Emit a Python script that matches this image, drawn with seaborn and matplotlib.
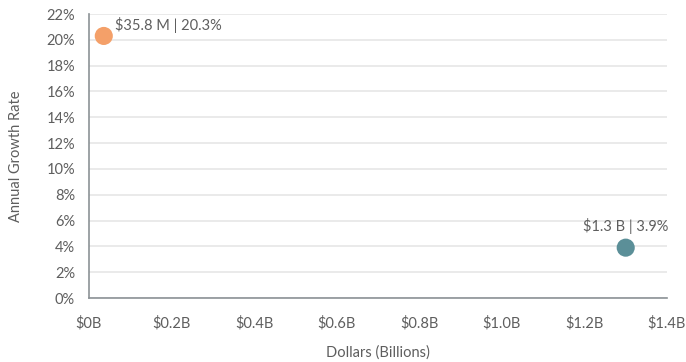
import matplotlib
matplotlib.use("Agg")
import matplotlib.pyplot as plt
import seaborn as sns
import pandas as pd
from matplotlib.ticker import FuncFormatter, MultipleLocator

# Market size (billions of dollars) vs annual growth rate (%)
segments = ["Small", "Large"]
dollars_billions = [0.0358, 1.3]
growth_rate = [20.3, 3.9]
point_labels = ["$35.8 M | 20.3%", "$1.3 B | 3.9%"]
point_colors = ["#F4A069", "#5B8F98"]

df = pd.DataFrame({"segment": segments, "dollars": dollars_billions, "growth": growth_rate})

sns.set_theme(style="white")
plt.rcParams["font.family"] = ["Lato", "DejaVu Sans"]
text_color = "#5E5E5E"

fig = plt.figure(figsize=(6.86, 3.62), dpi=100)
ax = fig.add_axes([89 / 686, 1 - 298 / 362, (667 - 89) / 686, (298 - 14) / 362])

sns.scatterplot(data=df, x="dollars", y="growth", hue="segment",
                palette=point_colors, s=170, edgecolor="none", legend=False,
                ax=ax, zorder=3, clip_on=False)

ax.set_xlim(0, 1.4)
ax.set_ylim(0, 22)
ax.xaxis.set_major_locator(MultipleLocator(0.2))
ax.yaxis.set_major_locator(MultipleLocator(2))
ax.xaxis.set_major_formatter(FuncFormatter(lambda v, p: "$0B" if abs(v) < 1e-9 else f"${v:.1f}B"))
ax.yaxis.set_major_formatter(FuncFormatter(lambda v, p: f"{v:.0f}%"))

ax.grid(axis="y", color="#E6E6E6", linewidth=1.2)
ax.set_axisbelow(True)
for side in ["top", "right"]:
    ax.spines[side].set_visible(False)
for side in ["left", "bottom"]:
    ax.spines[side].set_color("#8C9296")
    ax.spines[side].set_linewidth(1.2)

ax.tick_params(axis="both", length=0, labelsize=10.5, colors=text_color)
ax.tick_params(axis="x", pad=13)
ax.tick_params(axis="y", pad=10)
ax.set_xlabel("Dollars (Billions)", fontsize=10.5, color=text_color, labelpad=11)
ax.set_ylabel("Annual Growth Rate", fontsize=10.5, color=text_color, labelpad=17)

# value labels for each point
ax.annotate(point_labels[0], (dollars_billions[0], growth_rate[0]), xytext=(8, 2),
            textcoords="offset points", ha="left", va="bottom",
            fontsize=10.5, color=text_color)
ax.annotate(point_labels[1], (dollars_billions[1], growth_rate[1]), xytext=(0, 10),
            textcoords="offset points", ha="center", va="bottom",
            fontsize=10.5, color=text_color)

fig.savefig("out.png", dpi=100)
